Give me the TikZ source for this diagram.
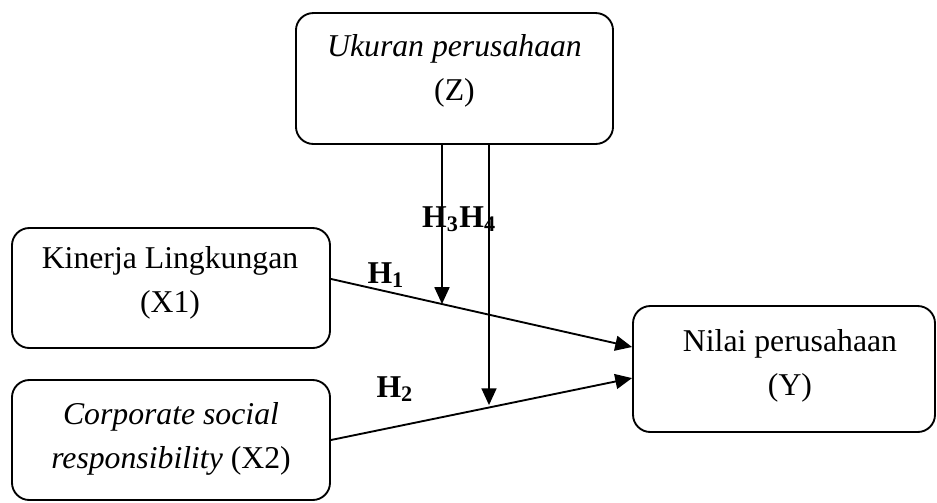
\documentclass[tikz,border=0pt]{standalone}
\usepackage{fontspec}
\setmainfont{Liberation Serif}
\usetikzlibrary{arrows.meta,calc}
\begin{document}
\begin{tikzpicture}[x=0.375pt,y=-0.375pt,
  box/.style={draw,line width=0.7pt,rounded corners=6.5pt,inner sep=0pt},
  lbl/.style={align=center,inner sep=0pt,font=\fontsize{11.9pt}{16.5pt}\selectfont},
  hyp/.style={inner sep=0pt,font=\fontsize{11.9pt}{14pt}\selectfont\bfseries},
  conn/.style={line width=0.7pt,-{Triangle[length=6.3pt,width=5.6pt]}}]
\useasboundingbox (0,0) rectangle (937,502);
% boxes
\node[box,minimum width=118.9pt,minimum height=49.1pt] (Z) at (454.5,78.5) {};
\node[box,minimum width=119.25pt,minimum height=45pt] (X1) at (171,288) {};
\node[box,minimum width=119.25pt,minimum height=45pt] (X2) at (171,440) {};
\node[box,minimum width=113.25pt,minimum height=47.25pt] (Y) at (784,369) {};
% texts
\node[lbl] (tZ) at (454.5,71) {\textit{Ukuran perusahaan}\\(Z)};
\node[lbl] (tX1) at (170,282.5) {Kinerja Lingkungan\\(X1)};
\node[lbl] (tX2) at (171,439) {\textit{Corporate social}\\\textit{responsibility} (X2)};
\node[lbl] (tY) at (790,365.5) {Nilai perusahaan\\(Y)};
% connectors
\coordinate (s1) at ([yshift=3.4pt]X1.east);
\coordinate (e1) at ([yshift=8.25pt]Y.west);
\coordinate (s2) at (X2.east);
\coordinate (e2) at ([yshift=-3.4pt]Y.west);
\coordinate (z1) at ([xshift=-4.69pt]Z.south);
\coordinate (z2) at ([xshift=12.94pt]Z.south);
\coordinate (z1b) at ([yshift=-60pt]z1);
\coordinate (z2b) at ([yshift=-60pt]z2);
\coordinate (p1) at (intersection of s1--e1 and z1--z1b);
\coordinate (p2) at (intersection of s2--e2 and z2--z2b);
\draw[conn] (s1) -- (e1);
\draw[conn] (s2) -- (e2);
\draw[conn] (z1) -- (p1);
\draw[conn] (z2) -- ([yshift=0.9pt]p2);
% hypothesis labels
\node[hyp,anchor=base west] (h1) at (367,283) {H\textsubscript{1}};
\node[hyp,anchor=base west] (h2) at (376,397) {H\textsubscript{2}};
\node[hyp,anchor=base east] (h34) at (497,227) {H\textsubscript{3}H\textsubscript{4}};
\end{tikzpicture}
\end{document}
